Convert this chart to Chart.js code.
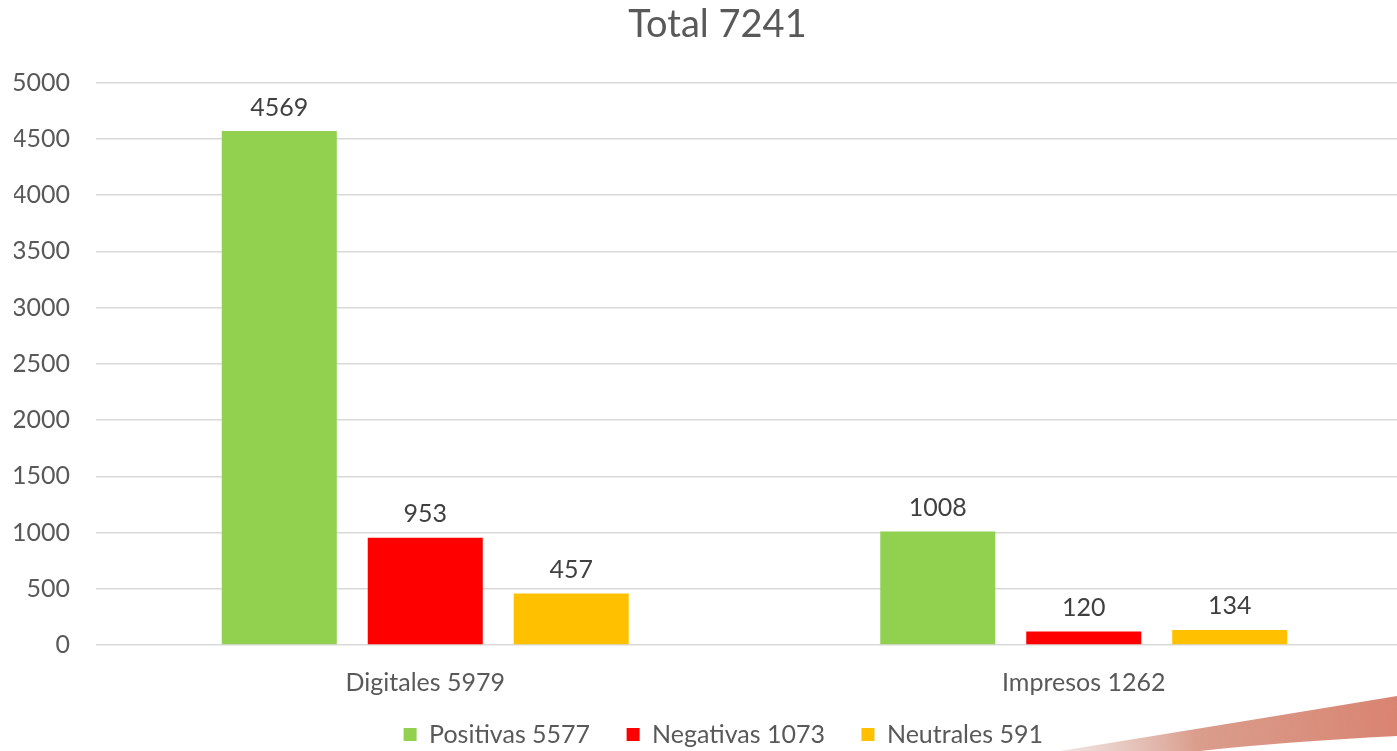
<!DOCTYPE html>
<html>
<head>
<meta charset="utf-8">
<script src="https://cdn.jsdelivr.net/npm/chart.js@4"></script>
<style>
  html, body { margin: 0; padding: 0; background: #fff; overflow: hidden; }
  #wrap { position: relative; width: 1413px; height: 757px; }
</style>
</head>
<body>
<div id="wrap"><canvas id="barChart"></canvas></div>
<script>
const categories = ['Digitales 5979', 'Impresos 1262'];
const seriesNames = ['Positivas 5577', 'Negativas 1073', 'Neutrales 591'];
const positivas = [4569, 1008];
const negativas = [953, 120];
const neutrales = [457, 134];
const seriesColors = ['#92d050', '#ff0000', '#ffc000'];
const yTicks = [0, 500, 1000, 1500, 2000, 2500, 3000, 3500, 4000, 4500, 5000];

// draws the number above each bar
const valueLabels = {
    id: 'valueLabels',
    afterDatasetsDraw(chart) {
        const ctx = chart.ctx;
        ctx.save();
        ctx.font = '25px Lato';
        ctx.fillStyle = '#404040';
        ctx.textAlign = 'center';
        ctx.textBaseline = 'bottom';
        chart.data.datasets.forEach((ds, i) => {
            chart.getDatasetMeta(i).data.forEach((bar, j) => {
                ctx.fillText(ds.data[j], bar.x, bar.y - 11);
            });
        });
        ctx.restore();
    }
};

// legend and title sit a bit right of the canvas middle in the original
const nudge = {
    id: 'nudge',
    afterLayout(chart) {
        chart.legend.left += 16;
        chart.legend.right += 16;
        chart.titleBlock.left += 4;
        chart.titleBlock.right += 4;
    }
};

// faint swoosh in the lower right corner of the slide
const swoosh = {
    id: 'swoosh',
    beforeDraw(chart) {
        const ctx = chart.ctx;
        ctx.save();
        const g = ctx.createLinearGradient(1060, 751, 1397, 700);
        g.addColorStop(0, 'rgba(225,200,195,0.5)');
        g.addColorStop(0.4, 'rgba(212,140,120,0.85)');
        g.addColorStop(1, 'rgba(215,125,105,0.95)');
        ctx.fillStyle = g;
        ctx.beginPath();
        ctx.moveTo(1060, 751);
        ctx.quadraticCurveTo(1240, 722, 1397, 696);
        ctx.lineTo(1397, 736);
        ctx.quadraticCurveTo(1280, 742, 1200, 751);
        ctx.closePath();
        ctx.fill();
        ctx.restore();
    }
};

new Chart(document.getElementById('barChart').getContext('2d'), {
    type: 'bar',
    data: {
        labels: categories,
        datasets: [
            { label: seriesNames[0], data: positivas, backgroundColor: seriesColors[0] },
            { label: seriesNames[1], data: negativas, backgroundColor: seriesColors[1] },
            { label: seriesNames[2], data: neutrales, backgroundColor: seriesColors[2] }
        ]
    },
    options: {
        responsive: true,
        maintainAspectRatio: false,
        animation: false,
        layout: { padding: { left: 14, right: 0, top: 2, bottom: 0 } },
        datasets: {
            bar: { categoryPercentage: 0.665, barPercentage: 0.788 }
        },
        plugins: {
            title: {
                display: true,
                text: 'Total 7241',
                color: '#595959',
                font: { family: 'Lato', size: 38, weight: 'normal' },
                padding: { top: 0, bottom: 35 }
            },
            legend: {
                position: 'bottom',
                labels: {
                    color: '#595959',
                    font: { family: 'Lato', size: 25 },
                    boxWidth: 13,
                    boxHeight: 13,
                    padding: 24,
                    // a little extra room after each entry, like the original
                    generateLabels: (chart) => Chart.defaults.plugins.legend.labels.generateLabels(chart)
                        .map(item => ({ ...item, text: item.text + '\u2002' }))
                }
            },
            tooltip: { enabled: false }
        },
        scales: {
            x: {
                grid: { display: false },
                border: { display: false },
                ticks: { color: '#595959', font: { family: 'Lato', size: 25 }, padding: 15 },
                afterFit: (axis) => { axis.height = 53; }
            },
            y: {
                min: 0,
                max: 5000,
                afterBuildTicks: (axis) => { axis.ticks = yTicks.map(v => ({ value: v })); },
                afterFit: (axis) => { axis.width = 82; },
                grid: { color: '#d9d9d9', lineWidth: 1.5, drawTicks: false },
                border: { display: false },
                ticks: {
                    color: '#595959',
                    font: { family: 'Lato', size: 25 },
                    padding: 26,
                    callback: (v) => String(v)
                }
            }
        }
    },
    plugins: [valueLabels, nudge, swoosh]
});
</script>
</body>
</html>
